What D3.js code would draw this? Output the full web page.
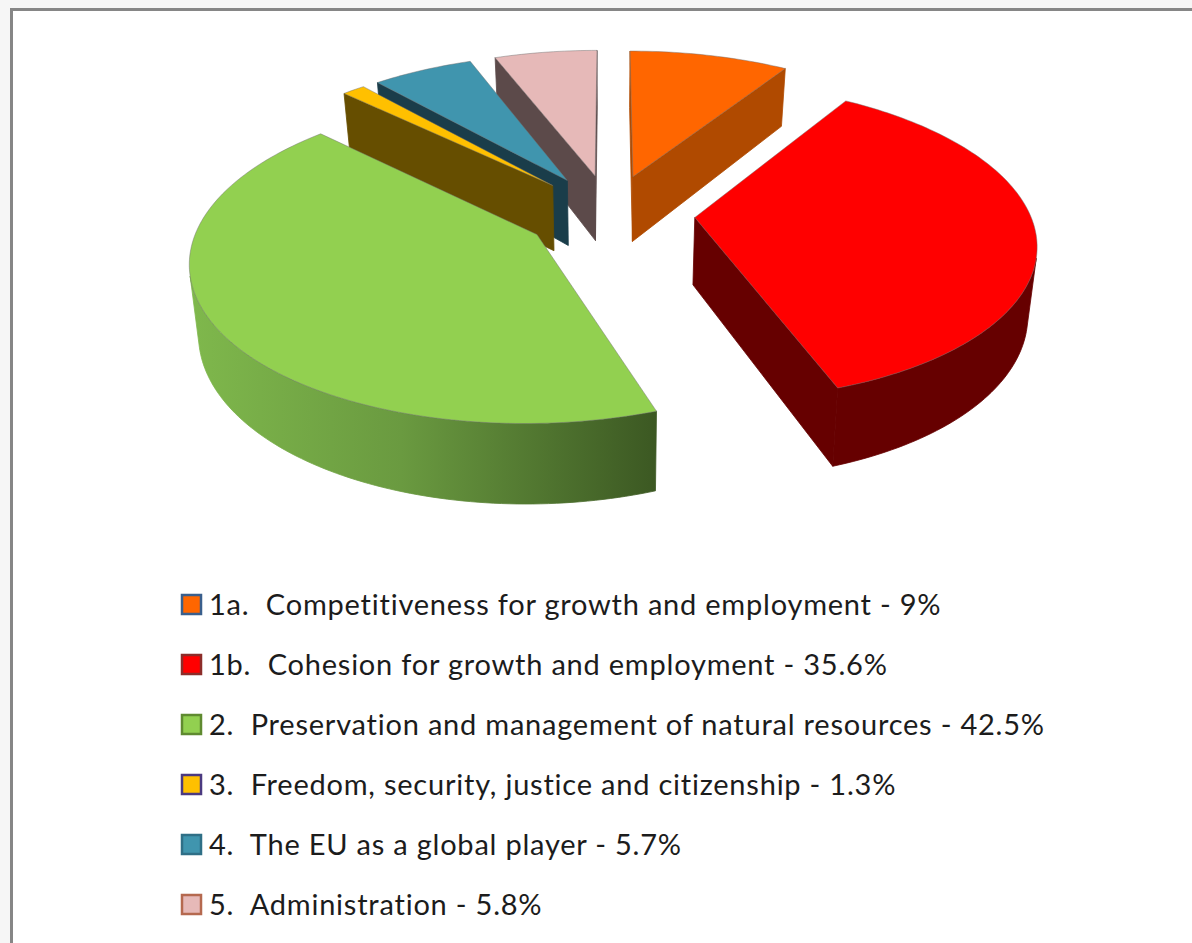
<!DOCTYPE html>
<html>
<head>
<meta charset="utf-8">
<script src="https://cdn.jsdelivr.net/npm/d3@7"></script>
<style>
  html, body { margin: 0; padding: 0; background: #f6f6f6; overflow: hidden; }
  svg { display: block; }
  text {
    font-family: Lato, "Open Sans", sans-serif;
    fill: #1c1c1c;
    white-space: pre;
    font-variant-ligatures: none;
    letter-spacing: 0.78px;
  }
</style>
</head>
<body>
<svg id="chart" width="1192" height="943"></svg>
<script>
// ##### The data
var categories = [
  '1a.  Competitiveness for growth and employment - 9%',
  '1b.  Cohesion for growth and employment - 35.6%',
  '2.  Preservation and management of natural resources - 42.5%',
  '3.  Freedom, security, justice and citizenship - 1.3%',
  '4.  The EU as a global player - 5.7%',
  '5.  Administration - 5.8%'
];
var shareValues = [9, 35.6, 42.5, 1.3, 5.7, 5.8];

var topColours = ['#ff6600', '#ff0000', '#92d050', '#ffc000', '#4095ae', '#e6b9b8'];
var wallColours = ['#b04a00', '#660000', 'url(#green-wall)', '#664e00', '#1a3d4a', '#5c4a4a'];
var legendBorders = ['#3a5f8c', '#8c2d2a', '#5f8a30', '#4b3a80', '#2f6f86', '#b5694f'];

// The slices are painted from the back to the front
var drawOrder = [5, 4, 3, 0, 1, 2];


// ##### Parameters of the 3D view
var centerX = 610, centerY = 213;
var radius = 335, explode = 85, depth = 67;
var tilt = 0.46, perspective = 0.00044, wallShrink = 0.022;

var svg = d3.select('#chart');

// Project a point of the pie plane on the screen, level 1 being the bottom of the walls
function project(u, v, level) {
  var s = 1 / (1 - v * perspective);
  var shrink = 1 - wallShrink * level;
  return [
    centerX + u * s * shrink,
    centerY + tilt * v * s + depth * s * level
  ];
}

// Get a point of a slice from its clockwise angle and its distance to the apex
function slicePoint(slice, angle, dist, level) {
  var mid = (slice.startAngle + slice.endAngle) / 2;
  var u = explode * Math.sin(mid) + dist * Math.sin(angle);
  var v = -explode * Math.cos(mid) - dist * Math.cos(angle);
  return project(u, v, level);
}

// Positive when the polygon is turned towards the viewer
function signedArea(points) {
  return d3.polygonArea(points);
}


// ##### Background and frame
svg.append('rect')
  .attr('x', 11.5).attr('y', 9.5)
  .attr('width', 1300).attr('height', 1000)
  .attr('fill', '#ffffff')
  .attr('stroke', '#868686')
  .attr('stroke-width', 3);

var gradient = svg.append('defs').append('linearGradient')
  .attr('id', 'green-wall')
  .attr('gradientUnits', 'userSpaceOnUse')
  .attr('x1', 190).attr('x2', 660).attr('y1', 0).attr('y2', 0);
gradient.append('stop').attr('offset', '0%').attr('stop-color', '#7fb84c');
gradient.append('stop').attr('offset', '45%').attr('stop-color', '#6a9a40');
gradient.append('stop').attr('offset', '100%').attr('stop-color', '#3b5722');


// ##### The pie
var pie = d3.pie().sort(null).value(function(d) { return d; });
var slices = pie(shareValues);
var line = d3.line();

function arcAngles(slice) {
  var steps = Math.max(4, Math.ceil((slice.endAngle - slice.startAngle) / 0.02));
  return d3.range(steps + 1).map(function(i) {
    return slice.startAngle + (slice.endAngle - slice.startAngle) * i / steps;
  });
}

// A radial wall, going from the apex to the border of the slice
function radialWall(slice, angle) {
  return [
    slicePoint(slice, angle, 0, 0),
    slicePoint(slice, angle, radius, 0),
    slicePoint(slice, angle, radius, 1),
    slicePoint(slice, angle, 0, 1)
  ];
}

// The outer wall, limited to the part that faces the viewer
function outerWall(slice) {
  var angles = arcAngles(slice);
  var visible = [];
  for (var i = 0; i < angles.length - 1; ++i) {
    var quad = [
      slicePoint(slice, angles[i], radius, 0),
      slicePoint(slice, angles[i + 1], radius, 0),
      slicePoint(slice, angles[i + 1], radius, 1),
      slicePoint(slice, angles[i], radius, 1)
    ];
    if (signedArea(quad) > 0) {
      if (visible.length === 0) visible.push(angles[i]);
      visible.push(angles[i + 1]);
    }
  }
  var upper = visible.map(function(a) { return slicePoint(slice, a, radius, 0); });
  var lower = visible.map(function(a) { return slicePoint(slice, a, radius, 1); }).reverse();
  return upper.concat(lower);
}

var pieGroup = svg.append('g').attr('class', 'pie');

drawOrder.forEach(function(index) {
  var slice = slices[index];
  var walls = [radialWall(slice, slice.startAngle), radialWall(slice, slice.endAngle).reverse()];
  walls = walls.filter(function(wall) { return signedArea(wall) > 0; });
  var outer = outerWall(slice);
  if (outer.length) walls.push(outer);

  var group = pieGroup.append('g');

  group.selectAll('path.wall')
    .data(walls)
    .enter()
    .append('path')
    .attr('class', 'wall')
    .attr('d', function(d) { return line(d) + 'Z'; })
    .attr('fill', wallColours[index])
    .attr('stroke', wallColours[index])
    .attr('stroke-width', 0.8);

  var top = [slicePoint(slice, 0, 0, 0)].concat(arcAngles(slice).map(function(a) {
    return slicePoint(slice, a, radius, 0);
  }));

  group.append('path')
    .attr('class', 'top')
    .attr('d', line(top) + 'Z')
    .attr('fill', topColours[index])
    .attr('stroke', '#6f6f6f')
    .attr('stroke-opacity', 0.45)
    .attr('stroke-width', 1);
});


// ##### The legend
var legendY = d3.scalePoint()
  .domain(categories)
  .range([605, 905]);

var legend = svg.append('g')
  .attr('class', 'legend')
  .selectAll('g')
  .data(categories)
  .enter()
  .append('g')
  .attr('transform', function(d) { return 'translate(0,' + legendY(d) + ')'; });

legend.append('rect')
  .attr('x', 182).attr('y', -10)
  .attr('width', 19).attr('height', 19)
  .attr('fill', function(d, i) { return topColours[i]; })
  .attr('stroke', function(d, i) { return legendBorders[i]; })
  .attr('stroke-width', 2.5);

legend.append('text')
  .attr('x', 209)
  .attr('y', 10)
  .attr('font-size', 29)
  .text(function(d) { return d; });
</script>
</body>
</html>
